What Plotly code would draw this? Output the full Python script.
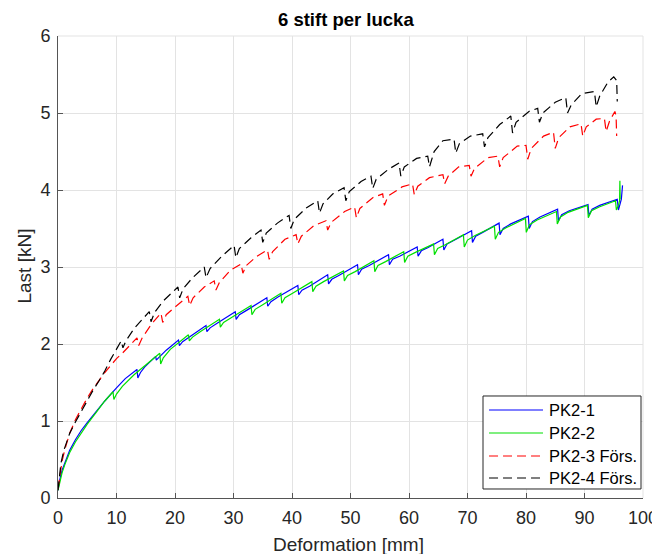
import plotly.graph_objects as go

# ---- data ----
pk2_1 = [(0,0.10),(0.3,0.24),(0.7,0.36),(1.2,0.47),(2,0.62),(3,0.76),(4,0.88),(5,0.98),(6.5,1.12),(8,1.26),(10,1.43),(11.5,1.55),
         (13.5,1.67),(13.65,1.56),(14.1,1.63),(14.8,1.70),(16.7,1.84),(16.8,1.79),(17.3,1.83),(18.5,1.92),(20.6,2.05),(20.75,1.98),(21.3,2.03),(22.5,2.09),
         (25.3,2.24),(25.45,2.16),(26,2.21),(27.2,2.27),(30.3,2.42),(30.45,2.32),(31,2.38),(32.3,2.44),(35.7,2.60),(35.85,2.49),(36.4,2.55),(37.6,2.61),
         (41.0,2.76),(41.15,2.64),(41.7,2.70),(43,2.75),(46.1,2.90),(46.25,2.78),(46.8,2.84),(48,2.89),(51.2,3.03),(51.35,2.90),(51.9,2.97),(53.2,3.02),
         (56.5,3.16),(56.65,3.03),(57.2,3.10),(58.4,3.14),(61.4,3.26),(61.55,3.14),(62.1,3.21),(63.2,3.25),(65.8,3.36),(65.95,3.22),(66.5,3.30),(67.8,3.35),
         (70.7,3.47),(70.85,3.32),(71.4,3.40),(72.6,3.45),(75.4,3.57),(75.55,3.42),(76.1,3.50),(77.4,3.56),(80.4,3.66),(80.55,3.50),(81.1,3.59),(82.4,3.65),
         (85.4,3.75),(85.55,3.60),(86.1,3.68),(87.4,3.73),(90.6,3.81),(90.75,3.67),(91.3,3.75),(92.6,3.80),(95.6,3.88),(95.8,3.74),(96.0,3.80),(96.3,3.88),(96.5,4.06)]

pk2_2 = [(0,0.10),(0.3,0.22),(0.7,0.33),(1.2,0.44),(2,0.59),(3,0.73),(4,0.85),(5,0.96),(6.5,1.11),(8,1.26),(9.4,1.38),(9.55,1.28),(10,1.35),(11,1.45),
         (13,1.60),(15,1.73),(17.4,1.88),(17.55,1.74),(18,1.82),(19.2,1.93),(22.3,2.12),(22.45,2.04),(23,2.09),(24.3,2.16),(27.6,2.32),(27.75,2.22),(28.3,2.28),(29.6,2.34),
         (33.0,2.50),(33.15,2.38),(33.7,2.45),(35,2.51),(38.1,2.66),(38.25,2.53),(38.8,2.60),(40.1,2.66),(43.4,2.81),(43.55,2.68),(44.1,2.75),(45.4,2.81),
         (48.8,2.95),(48.95,2.82),(49.5,2.89),(50.8,2.94),(54.0,3.08),(54.15,2.94),(54.7,3.02),(56,3.07),(59.1,3.20),(59.25,3.06),(59.8,3.14),(61.1,3.19),
         (64.2,3.30),(64.35,3.16),(64.9,3.24),(66.2,3.29),(69.3,3.42),(69.45,3.26),(70,3.35),(71.3,3.41),(74.6,3.53),(74.75,3.36),(75.3,3.45),(76.6,3.51),
         (79.9,3.63),(80.05,3.45),(80.6,3.55),(81.9,3.61),(85.2,3.72),(85.35,3.56),(85.9,3.65),(87.2,3.71),(90.5,3.80),(90.65,3.64),(91.2,3.73),(92.5,3.78),
         (95.3,3.86),(95.45,3.74),(95.8,3.80),(96.0,3.86),(96.05,4.12),(96.1,3.88)]

pk2_3 = [(0,0.12),(0.3,0.30),(0.7,0.48),(1.2,0.64),(2,0.84),(3,1.02),(4,1.17),(5,1.30),(6,1.42),(7,1.53),(8,1.63),(9,1.72),(10,1.81),(11,1.88),(12,1.96),
         (13.5,2.08),(13.8,1.98),(14.4,2.08),(16,2.26),(17.6,2.40),(17.9,2.28),(18.5,2.38),(20,2.48),(22.2,2.62),(22.5,2.50),(23.1,2.60),(25,2.74),
         (26.7,2.82),(27.0,2.70),(27.6,2.80),(29.5,2.96),(31.3,3.04),(31.6,2.92),(32.2,3.02),(34,3.14),(35.8,3.22),(36.1,3.10),(36.7,3.20),(38.8,3.36),
         (40.7,3.42),(41.0,3.30),(41.6,3.40),(43.8,3.54),(45.8,3.60),(46.1,3.48),(46.7,3.58),(49,3.72),(50.7,3.78),(51.0,3.64),(51.6,3.76),(53.8,3.90),
         (55.5,3.95),(55.8,3.80),(56.4,3.92),(58.8,4.04),(60.6,4.08),(60.9,3.94),(61.5,4.05),(63.5,4.16),(65.8,4.20),(66.1,4.08),(66.7,4.18),(68.5,4.30),
         (70.3,4.32),(70.6,4.18),(71.2,4.28),(73.5,4.42),(75.2,4.44),(75.5,4.30),(76.1,4.42),(78.5,4.57),(80.0,4.58),(80.3,4.40),(80.9,4.54),(83,4.70),
         (84.7,4.75),(85.0,4.54),(85.6,4.68),(87.5,4.82),(89.4,4.86),(89.7,4.70),(90.3,4.82),(92,4.92),(93.4,4.93),(93.7,4.76),(94.3,4.90),(95.2,5.02),
         (95.4,4.96),(95.5,4.70)]

pk2_4 = [(0,0.10),(0.2,0.28),(0.5,0.45),(1,0.62),(2,0.84),(3,0.99),(4,1.13),(5,1.27),(6,1.40),(7,1.52),(8,1.65),(9,1.80),(10,1.94),
         (10.8,2.04),(11.1,1.95),(11.6,2.04),(13,2.20),(15.6,2.42),(15.9,2.29),(16.5,2.41),(18,2.56),(20.5,2.74),(20.8,2.60),(21.4,2.72),(23,2.86),
         (25.0,3.00),(25.3,2.86),(26,2.98),(28,3.14),(30.1,3.28),(30.4,3.12),(31,3.24),(33,3.38),(34.7,3.48),(35.0,3.32),(35.6,3.44),(37.5,3.57),
         (39.5,3.67),(39.8,3.50),(40.4,3.62),(42.5,3.77),(44.4,3.86),(44.7,3.70),(45.3,3.82),(47,3.95),(48.9,4.03),(49.2,3.86),(49.8,3.98),(51.8,4.11),
         (53.5,4.18),(53.8,4.02),(54.4,4.14),(56.5,4.27),(58.3,4.35),(58.6,4.18),(59.2,4.30),(61.3,4.41),(63.2,4.44),(63.5,4.30),(64.3,4.50),(65.8,4.64),
         (67.7,4.66),(68.0,4.48),(68.6,4.60),(70.5,4.70),(72.6,4.73),(72.9,4.56),(73.5,4.68),(75.5,4.85),(77.4,4.96),(77.7,4.74),(78.3,4.88),(80.5,5.02),
         (82.0,5.06),(82.3,4.88),(82.9,5.00),(85,5.14),(86.8,5.20),(87.1,5.00),(87.7,5.10),(89.5,5.25),(91.7,5.28),(92.0,5.08),(92.6,5.22),(94.0,5.40),
         (95.0,5.47),(95.5,5.42),(95.6,5.15)]

series_names = ["PK2-1", "PK2-2", "PK2-3 Förs.", "PK2-4 Förs."]
x_ticks = [0, 10, 20, 30, 40, 50, 60, 70, 80, 90, 100]
y_ticks = [0, 1, 2, 3, 4, 5, 6]

FONT = "Liberation Sans, Arial, sans-serif"
AX = "#262626"
AXLINE = "#555555"
GRID = "#e3e3e3"
DASH = "9px,5px"

styles = [
    dict(color="#0000ff", width=1.2, dash="solid"),
    dict(color="#00e000", width=1.2, dash="solid"),
    dict(color="#ff0000", width=1.2, dash=DASH),
    dict(color="#000000", width=1.2, dash=DASH),
]

fig = go.Figure()
for name, data, st in zip(series_names, [pk2_1, pk2_2, pk2_3, pk2_4], styles):
    xs = [p[0] for p in data]
    ys = [p[1] for p in data]
    fig.add_trace(go.Scatter(x=xs, y=ys, mode="lines", name=name, line=st,
                             showlegend=False))

# legend drawn as a boxed key in paper coordinates (bottom-right, inside axes)
leg_x0, leg_x1, leg_y0, leg_y1 = 0.7265, 0.9966, 0.0195, 0.2208
row_y = [0.1905, 0.1407, 0.0909, 0.0433]
line_x0, line_x1, text_x = 0.7368, 0.8291, 0.8359

shapes = [
    dict(type="line", xref="paper", yref="paper", x0=0, x1=1, y0=1, y1=1,
         line=dict(color=GRID, width=1)),
    dict(type="line", xref="paper", yref="paper", x0=1, x1=1, y0=0, y1=1,
         line=dict(color=GRID, width=1)),
    dict(type="rect", xref="paper", yref="paper", x0=leg_x0, x1=leg_x1, y0=leg_y0, y1=leg_y1,
         line=dict(color=AX, width=1), fillcolor="white", layer="above"),
]
annotations = [
    dict(text="Deformation [mm]", xref="paper", yref="paper", x=0.497, y=-0.0996,
         xanchor="center", yanchor="middle", showarrow=False,
         font=dict(size=19, color=AX)),
    dict(text="Last [kN]", xref="paper", yref="paper", x=-0.0564, y=0.501,
         xanchor="center", yanchor="middle", showarrow=False, textangle=-90,
         font=dict(size=19, color=AX)),
]
for name, st, ry in zip(series_names, styles, row_y):
    shapes.append(dict(type="line", xref="paper", yref="paper", x0=line_x0, x1=line_x1,
                       y0=ry, y1=ry, layer="above",
                       line=dict(color=st["color"], width=1.2, dash=st["dash"])))
    annotations.append(dict(text=name, xref="paper", yref="paper", x=text_x, y=ry,
                            xanchor="left", yanchor="middle", showarrow=False,
                            font=dict(size=16.5, color="#000")))

fig.update_layout(
    width=652, height=546,
    margin=dict(l=50, r=17, t=28, b=56, autoexpand=False),
    paper_bgcolor="white", plot_bgcolor="white",
    font=dict(family=FONT, size=18, color=AX),
    title=dict(text="<b>6 stift per lucka</b>", xref="paper", x=0.492, xanchor="center",
               y=1 - 12 / 546, yanchor="middle", font=dict(size=18.5, color="#000")),
    showlegend=False,
    xaxis=dict(range=[0, 100], tickvals=x_ticks, showgrid=True, gridcolor=GRID,
               showline=True, linecolor=AXLINE, linewidth=1, ticks="inside", ticklen=5,
               tickcolor=AXLINE, zeroline=False, ticklabelstandoff=3, automargin=False,
               tickfont=dict(size=18, color=AX)),
    yaxis=dict(range=[0, 6], tickvals=y_ticks, showgrid=True, gridcolor=GRID,
               showline=True, linecolor=AXLINE, linewidth=1, ticks="inside", ticklen=5,
               tickcolor=AXLINE, zeroline=False, ticklabelstandoff=3, automargin=False,
               tickfont=dict(size=18, color=AX)),
    shapes=shapes,
    annotations=annotations,
)

fig.write_html("out.html")
